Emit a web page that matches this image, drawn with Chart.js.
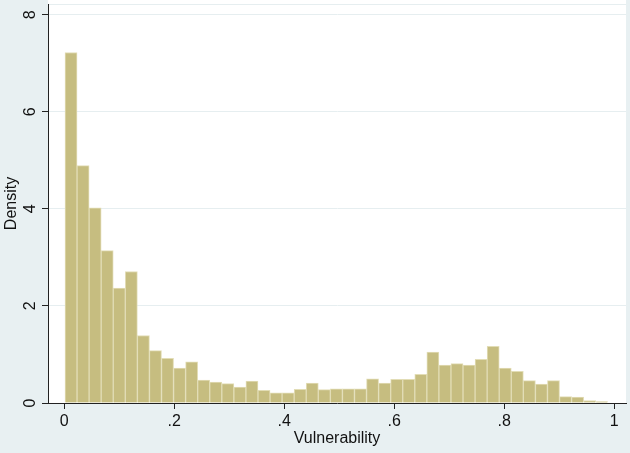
<!DOCTYPE html>
<html>
<head>
<meta charset="utf-8">
<script src="https://cdn.jsdelivr.net/npm/chart.js@4/dist/chart.umd.min.js"></script>
<style>
  html, body { margin: 0; padding: 0; background: #e8f0f2; }
  #wrap { width: 630px; height: 453px; position: relative; }
</style>
</head>
<body>
<div id="wrap"><canvas id="hist"></canvas></div>
<script>
// histogram bins (45 equal bins) and their densities
const binStart = 0.0013;
const binWidth = 0.02193;
const density = [
  7.22, 4.89, 4.02, 3.14, 2.37, 2.71, 1.39, 1.08, 0.92, 0.72,
  0.85, 0.47, 0.43, 0.40, 0.33, 0.45, 0.26, 0.21, 0.21, 0.28,
  0.41, 0.275, 0.29, 0.29, 0.29, 0.50, 0.41, 0.49, 0.49, 0.59,
  1.05, 0.78, 0.81, 0.78, 0.90, 1.17, 0.72, 0.65, 0.46, 0.39,
  0.46, 0.13, 0.12, 0.05, 0.03
];
const xTicks = [0, 0.2, 0.4, 0.6, 0.8, 1];
const xTickLabels = ['0', '.2', '.4', '.6', '.8', '1'];
const yTicks = [0, 2, 4, 6, 8];
const xTitle = 'Vulnerability';
const yTitle = 'Density';

const font = 'Liberation Sans, Arial, sans-serif';

const points = density.map((d, i) => ({ x: binStart + binWidth * (i + 0.5), y: d }));

// white plot region on the bluish-grey graph region
const plotBg = {
  id: 'plotBg',
  beforeDraw(chart) {
    const { ctx, chartArea: a } = chart;
    ctx.save();
    ctx.fillStyle = '#ffffff';
    ctx.fillRect(a.left, 0, a.right - a.left, a.bottom);
    ctx.strokeStyle = '#e6eef0';
    ctx.lineWidth = 1;
    ctx.beginPath();
    ctx.moveTo(a.left, a.top + 0.5);
    ctx.lineTo(a.right, a.top + 0.5);
    ctx.stroke();
    ctx.restore();
  }
};

// y tick labels turned on their side, centred on each tick (Stata style)
const yLabels = {
  id: 'yLabels',
  afterDraw(chart) {
    const { ctx } = chart;
    const ys = chart.scales.y;
    ctx.save();
    ctx.fillStyle = '#111';
    ctx.font = '16px ' + font;
    ctx.textAlign = 'center';
    ctx.textBaseline = 'middle';
    yTicks.forEach(v => {
      ctx.save();
      ctx.translate(31, ys.getPixelForValue(v));
      ctx.rotate(-Math.PI / 2);
      ctx.fillText(String(v), 0, 0);
      ctx.restore();
    });
    ctx.restore();
  }
};

new Chart(document.getElementById('hist'), {
  type: 'bar',
  data: {
    datasets: [{
      data: points,
      backgroundColor: '#c6bd80',
      borderColor: '#e2ddb6',
      borderWidth: 1,
      barPercentage: 1,
      categoryPercentage: 1
    }]
  },
  options: {
    responsive: true,
    maintainAspectRatio: false,
    animation: false,
    devicePixelRatio: 1,
    layout: { padding: { left: 0, right: 4, top: 4, bottom: 0 } },
    plugins: { legend: { display: false }, tooltip: { enabled: false } },
    scales: {
      x: {
        type: 'linear',
        offset: false,
        min: -0.0296,
        max: 1.0213,
        afterBuildTicks: s => { s.ticks = xTicks.map(v => ({ value: v })); },
        afterFit: s => { s.height = 50; },
        ticks: {
          callback: (v, i) => xTickLabels[i],
          font: { family: font, size: 16 },
          color: '#111',
          padding: 3,
          maxRotation: 0,
          autoSkip: false
        },
        grid: { offset: false, drawOnChartArea: false, tickLength: 6, tickColor: '#222' },
        border: { color: '#222', width: 1 },
        title: {
          display: true, text: xTitle, color: '#111',
          font: { family: font, size: 16 },
          padding: { top: 0, bottom: 5 }
        }
      },
      y: {
        min: 0,
        max: 8.22,
        afterBuildTicks: s => { s.ticks = yTicks.map(v => ({ value: v })); },
        afterFit: s => { s.width = 48; },
        ticks: { display: false },
        grid: {
          color: c => c.tick && c.tick.value === 0 ? 'rgba(0,0,0,0)' : '#e6eef0',
          tickColor: '#222',
          tickLength: 6
        },
        border: { color: '#222', width: 1 },
        title: {
          display: true, text: yTitle, color: '#111',
          font: { family: font, size: 16 },
          padding: { top: 2, bottom: 0 }
        }
      }
    }
  },
  plugins: [plotBg, yLabels]
});
</script>
</body>
</html>
